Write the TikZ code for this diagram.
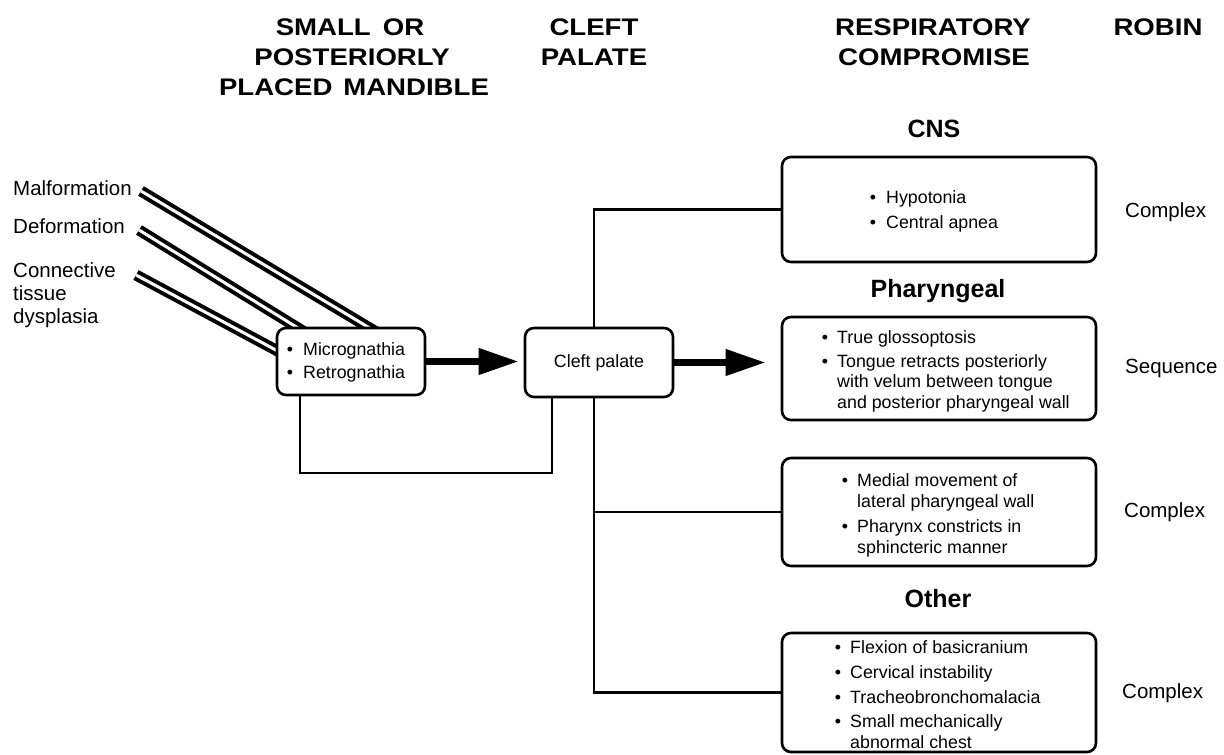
\documentclass[tikz,border=0pt]{standalone}
\usepackage{fontspec}
\setmainfont{Liberation Sans}
\newfontfamily\hdfont{Liberation Sans}[FakeStretch=1.15]
\usetikzlibrary{arrows.meta}
\begin{document}
\begin{tikzpicture}[x=1pt,y=-1pt,
  box/.style={draw, line width=2.6pt, rounded corners=9pt, fill=white, inner sep=0pt},
  conn/.style={line width=2.6pt},
  bigarrow/.style={line width=7pt, -{Triangle[length=40pt,width=25pt]}},
  dbl/.style={line width=4pt, double=white, double distance=3pt},
  colhead/.style={font=\hdfont\fontsize{24}{28}\selectfont\bfseries, anchor=base, inner sep=0pt},
  sechead/.style={font=\fontsize{25}{28}\selectfont\bfseries, anchor=base, inner sep=0pt},
  sidelab/.style={font=\fontsize{20.5}{23}\selectfont, anchor=base west, inner sep=0pt},
  boxline/.style={font=\fontsize{17.8}{20}\selectfont, anchor=base west, inner sep=0pt},
  bul/.style={font=\fontsize{17.8}{20}\selectfont, anchor=base, inner sep=0pt},
]
\useasboundingbox (0,0) rectangle (1224,755);

% column headings
\node[colhead] (h1a) at (350,35) {SMALL\hspace{0.5em}OR};
\node[colhead] (h1b) at (352,65) {POSTERIORLY};
\node[colhead] (h1c) at (354,95) {PLACED\hspace{0.45em}MANDIBLE};
\node[colhead] (h2a) at (594,35) {CLEFT};
\node[colhead] (h2b) at (594,65) {PALATE};
\node[colhead] (h3a) at (933,35) {RESPIRATORY};
\node[colhead] (h3b) at (934,65) {COMPROMISE};
\node[colhead] (h4)  at (1158,35) {ROBIN};

% causes on the left
\node[sidelab] (malf) at (13,195) {Malformation};
\node[sidelab] (defo) at (13,233) {Deformation};
\node[sidelab] (conn1) at (13,277) {Connective};
\node[sidelab] (conn2) at (13,300) {tissue};
\node[sidelab] (conn3) at (13,323) {dysplasia};

% double lines from the causes into the mandible box
\coordinate (malfS) at (141,191);
\coordinate (malfE) at (383,336);
\coordinate (defoS) at (139,230);
\coordinate (defoE) at (311,336);
\coordinate (connS) at (136,275);
\coordinate (connE) at (287,356);
\draw[dbl] (malfS) -- (malfE);
\draw[dbl] (defoS) -- (defoE);
\draw[dbl] (connS) -- (connE);

% boxes
\node[box, minimum width=148pt, minimum height=67pt] (micro) at (351,361.5) {};
\node[box, minimum width=148pt, minimum height=69pt,
      font=\fontsize{17.8}{20}\selectfont] (cleft) at (599,362.5) {Cleft palate};
\node[box, minimum width=314pt, minimum height=105pt] (cns)  at (939,209.5) {};
\node[box, minimum width=314pt, minimum height=103pt] (phar) at (939,368.5) {};
\node[box, minimum width=314pt, minimum height=108pt] (med)  at (939,512) {};
\node[box, minimum width=314pt, minimum height=119pt] (oth)  at (939,692.5) {};

% mandible box text
\node[bul] (mb1) at (290,355) {•};
\node[boxline] (mt1) at (303,355) {Micrognathia};
\node[bul] (mb2) at (290,378) {•};
\node[boxline] (mt2) at (303,378) {Retrognathia};

% feedback loop below the first two boxes
\coordinate (loopA) at (300,473);
\coordinate (loopB) at (552,473);
\draw[conn] (micro.south -| loopA) -- (loopA) -- (loopB) -- (cleft.south -| loopB);

% main arrows
\draw[bigarrow, shorten >=5pt] (micro.east) -- (micro.east -| cleft.west);
\draw[bigarrow, shorten >=15pt] (cleft.east) -- (cleft.east -| phar.west);

% trunk from the cleft palate box to the other boxes
\coordinate (trunk) at (594,362.5);
\draw[conn] (cleft.north -| trunk) |- (cns.west);
\draw[conn] (cleft.south -| trunk) |- (oth.west);
\draw[conn] (trunk |- med.west) -- (med.west);

% section headings
\node[sechead] (sCNS) at (934,137) {CNS};
\node[sechead] (sPh)  at (938,297) {Pharyngeal};
\node[sechead] (sOth) at (938,607) {Other};

% CNS box
\node[bul] (cb1) at (873,203) {•};
\node[boxline] (ct1) at (886,203) {Hypotonia};
\node[bul] (cb2) at (873,228) {•};
\node[boxline] (ct2) at (886,228) {Central apnea};

% pharyngeal box
\node[bul] (pb1) at (825,343) {•};
\node[boxline] (pt1) at (837,343) {True glossoptosis};
\node[bul] (pb2) at (825,367) {•};
\node[boxline] (pt2) at (837,367) {Tongue retracts posteriorly};
\node[boxline] (pt3) at (837,387) {with velum between tongue};
\node[boxline] (pt4) at (837,408) {and posterior pharyngeal wall};

% lateral wall box
\node[bul] (lb1) at (845,486) {•};
\node[boxline] (lt1) at (857,486) {Medial movement of};
\node[boxline] (lt2) at (857,507) {lateral pharyngeal wall};
\node[bul] (lb2) at (845,532) {•};
\node[boxline] (lt3) at (857,532) {Pharynx constricts in};
\node[boxline] (lt4) at (857,553) {sphincteric manner};

% other box
\node[bul] (ob1) at (838,653) {•};
\node[boxline] (ot1) at (850,653) {Flexion of basicranium};
\node[bul] (ob2) at (838,678) {•};
\node[boxline] (ot2) at (850,678) {Cervical instability};
\node[bul] (ob3) at (838,703) {•};
\node[boxline] (ot3) at (850,703) {Tracheobronchomalacia};
\node[bul] (ob4) at (838,727) {•};
\node[boxline] (ot4) at (850,727) {Small mechanically};
\node[boxline] (ot5) at (850,748) {abnormal chest};

% Robin classification
\node[sidelab] (r1) at (1125,217) {Complex};
\node[sidelab] (r2) at (1125,373) {Sequence};
\node[sidelab] (r3) at (1124,517) {Complex};
\node[sidelab] (r4) at (1122,698) {Complex};
\end{tikzpicture}
\end{document}
